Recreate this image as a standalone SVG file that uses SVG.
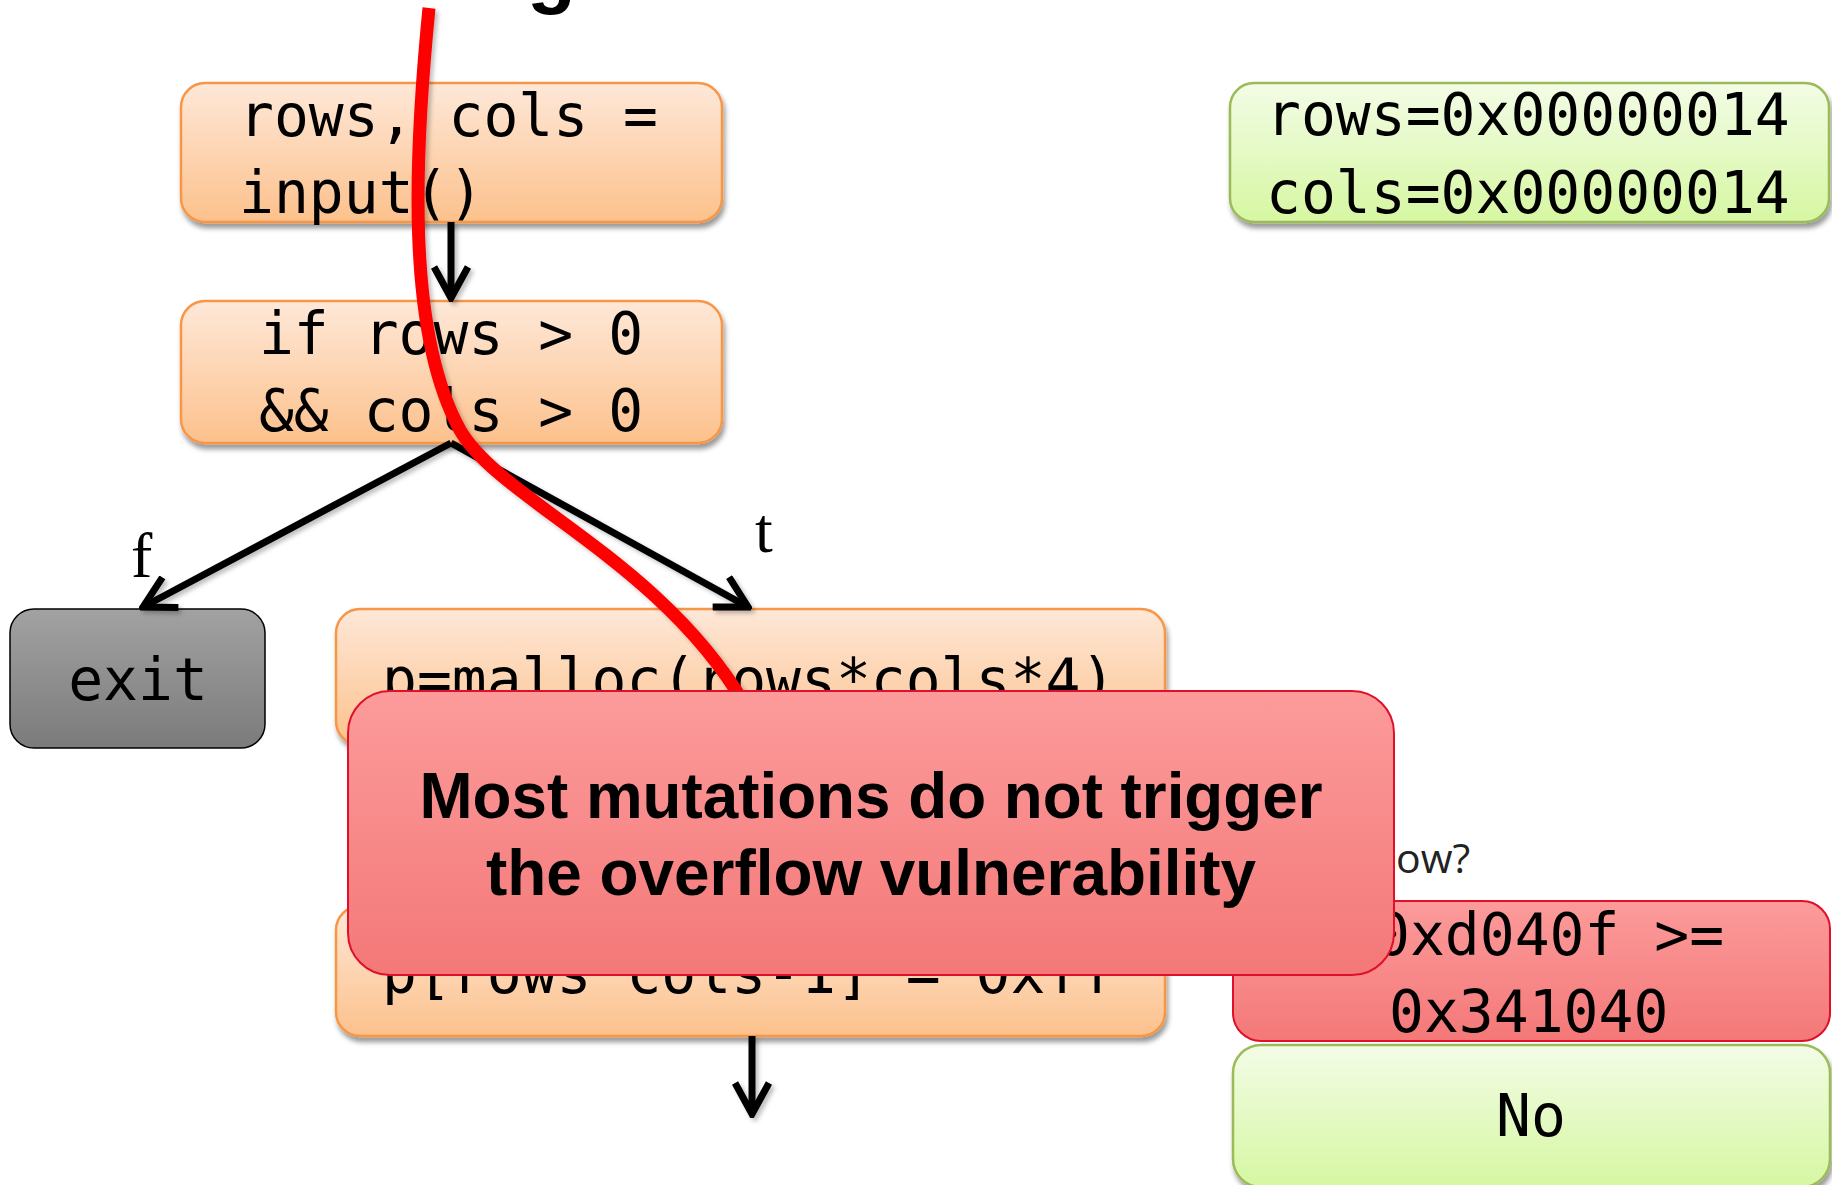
<svg xmlns="http://www.w3.org/2000/svg" width="1832" height="1185" viewBox="0 0 1832 1185">
<defs>
<linearGradient id="gOrange" x1="0" y1="0" x2="0" y2="1"><stop offset="0" stop-color="#fee8d8"/><stop offset="1" stop-color="#fcc18c"/></linearGradient>
<linearGradient id="gGreen" x1="0" y1="0" x2="0" y2="1"><stop offset="0" stop-color="#f3fce6"/><stop offset="1" stop-color="#d6f7a2"/></linearGradient>
<linearGradient id="gRed" x1="0" y1="0" x2="0" y2="1"><stop offset="0" stop-color="#fc9b9b"/><stop offset="1" stop-color="#f47878"/></linearGradient>
<linearGradient id="gGray" x1="0" y1="0" x2="0" y2="1"><stop offset="0" stop-color="#a2a2a2"/><stop offset="1" stop-color="#7b7b7b"/></linearGradient>
<filter id="shadow" x="-10%" y="-20%" width="120%" height="150%"><feDropShadow dx="2" dy="5" stdDeviation="2.5" flood-color="#000" flood-opacity="0.4"/></filter>
<filter id="lshadow" filterUnits="userSpaceOnUse" x="0" y="0" width="1832" height="1185"><feDropShadow dx="3" dy="3" stdDeviation="2" flood-color="#000" flood-opacity="0.25"/></filter>
<marker id="arr" viewBox="0 0 40 40" refX="36" refY="20" markerWidth="40" markerHeight="40" orient="auto" markerUnits="userSpaceOnUse">
<path d="M5,3 L36,20 L5,37" fill="none" stroke="#000" stroke-width="7" stroke-linejoin="miter"/>
</marker>
<style>
.code{font-family:"DejaVu Sans Mono","Liberation Mono",monospace;font-size:58px;fill:#000}
.orange{fill:url(#gOrange);stroke:#f79646;stroke-width:2.5;filter:url(#shadow)}
.green{fill:url(#gGreen);stroke:#9bbb59;stroke-width:2.5;filter:url(#shadow)}
.redbox{fill:url(#gRed);stroke:#e0102a;stroke-width:2}
.conn{stroke:#000;stroke-width:7;fill:none;marker-end:url(#arr)}
.lbl{font-family:"Liberation Serif",serif;font-size:64px;fill:#000}
</style>
</defs>
<rect width="1832" height="1185" fill="#fff"/>
<text x="527" y="-2" font-family="Liberation Sans, Arial, sans-serif" font-weight="bold" font-size="80" fill="#000">g</text>

<g id="node-input">
<rect class="orange" x="181" y="83" width="541" height="139" rx="24"/>
<text class="code" x="239" y="136">rows, cols =</text>
<text class="code" x="239" y="213">input()</text>
</g>
<g id="node-if">
<rect class="orange" x="181" y="301" width="541" height="142" rx="24"/>
<text class="code" x="451" y="354" text-anchor="middle">if rows &gt; 0</text>
<text class="code" x="451" y="431" text-anchor="middle">&amp;&amp; cols &gt; 0</text>
</g>
<g id="node-exit">
<rect x="10" y="609" width="255" height="139" rx="24" fill="url(#gGray)" stroke="#000" stroke-width="1.5"/>
<text class="code" x="138" y="700" text-anchor="middle">exit</text>
</g>
<g id="node-malloc">
<rect class="orange" x="336" y="609" width="829" height="136" rx="24"/>
<text class="code" x="382" y="700">p=malloc(rows*cols*4)</text>
</g>
<g id="node-write">
<rect class="orange" x="336" y="906" width="829" height="130" rx="24"/>
<text class="code" x="382" y="993">p[rows*cols-1] = 0xff</text>
</g>
<g id="node-values">
<rect class="green" x="1230" y="83" width="599" height="139" rx="24"/>
<text class="code" x="1266" y="135">rows=0x00000014</text>
<text class="code" x="1266" y="213">cols=0x00000014</text>
</g>
<g id="node-question">
<text x="1396" y="873" font-family="Open Sans, Liberation Sans, sans-serif" font-size="41" fill="#222">ow?</text>
</g>
<g id="node-check">
<rect class="redbox" x="1233" y="901" width="597" height="140" rx="28"/>
<text class="code" x="1375" y="955">0xd040f &gt;=</text>
<text class="code" x="1389" y="1032">0x341040</text>
</g>
<g id="node-no">
<rect class="green" x="1233" y="1045" width="597" height="142" rx="28"/>
<text class="code" x="1531" y="1136" text-anchor="middle">No</text>
</g>

<g id="connectors" filter="url(#lshadow)">
<line class="conn" x1="451" y1="222" x2="451" y2="298"/>
<line class="conn" x1="451" y1="443" x2="143" y2="607"/>
<line class="conn" x1="451" y1="443" x2="748" y2="607"/>
<line class="conn" x1="752" y1="1036" x2="752" y2="1114"/>
</g>
<g id="edge-labels">
<text class="lbl" x="131" y="577">f</text>
<text class="lbl" x="755" y="552">t</text>
</g>

<g id="path-red">
<path d="M429,8 C415,150 405,330 460,430 C500,500 660,560 745,705" fill="none" stroke="#ff0000" stroke-width="13" filter="url(#lshadow)"/>
</g>

<g id="node-callout">
<rect class="redbox" x="348" y="691" width="1046" height="284" rx="42"/>
<text x="871" y="818" text-anchor="middle" font-family="Liberation Sans, Arial, sans-serif" font-weight="bold" font-size="64" textLength="903" lengthAdjust="spacingAndGlyphs" fill="#000">Most mutations do not trigger</text>
<text x="871" y="895" text-anchor="middle" font-family="Liberation Sans, Arial, sans-serif" font-weight="bold" font-size="64" textLength="770" lengthAdjust="spacingAndGlyphs" fill="#000">the overflow vulnerability</text>
</g>
</svg>
